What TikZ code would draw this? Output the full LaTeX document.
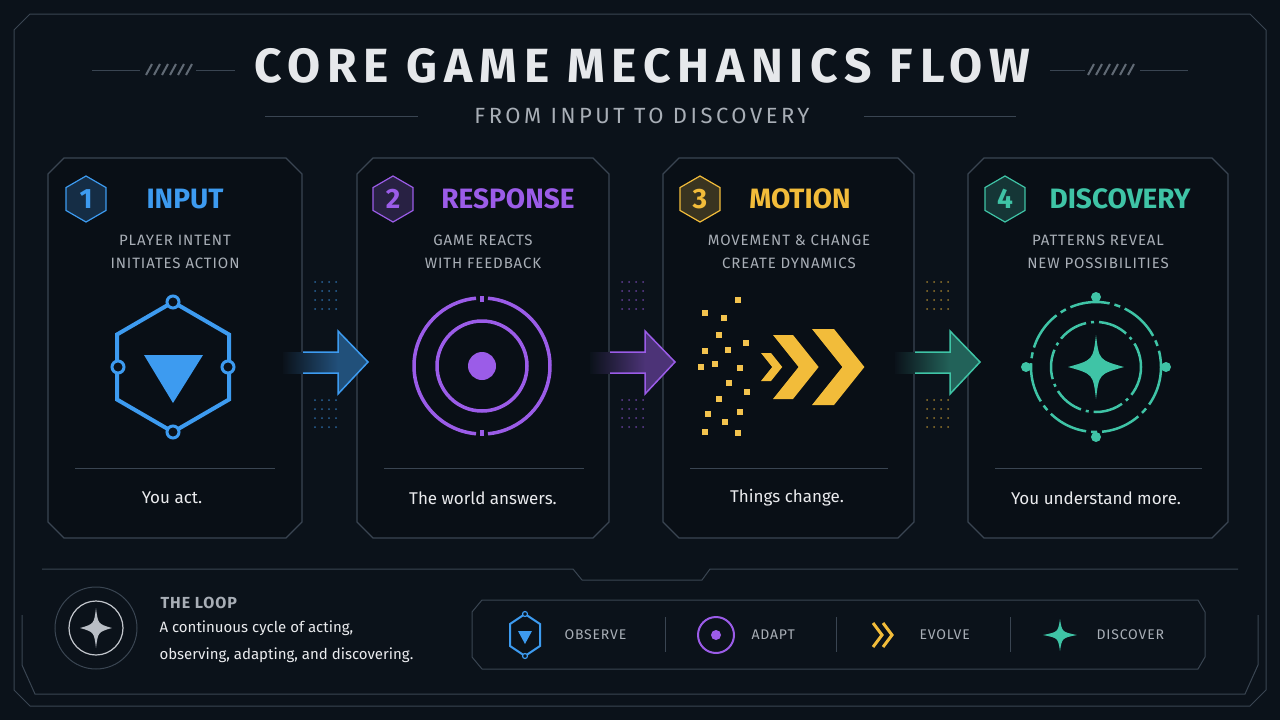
\documentclass[tikz,border=0pt]{standalone}
\usepackage{fontspec}
\setmainfont{Fira Sans}
\usetikzlibrary{shapes.geometric,calc}
\definecolor{bg}{HTML}{0B121A}
\definecolor{frame}{HTML}{3A4552}
\definecolor{cblue}{HTML}{3D9BF0}
\definecolor{cpurp}{HTML}{9B5CE8}
\definecolor{cyel}{HTML}{F2BC3A}
\definecolor{cgrn}{HTML}{3FC4A6}
\definecolor{txt}{HTML}{E6E8EB}
\definecolor{sub}{HTML}{A8AEB6}
\tikzset{
 card/.style={draw=frame,line width=1.2pt,fill=bg!85!black},
 ttl/.style={font=\fontsize{28}{30}\selectfont\bfseries},
 desc/.style={text=sub,font=\fontsize{15}{23}\selectfont\addfontfeature{LetterSpace=6},align=center},
 foot/.style={text=txt!85,font=\fontsize{17}{20}\selectfont},
 lg/.style={text=sub,font=\fontsize{14}{16}\selectfont\addfontfeature{LetterSpace=6},anchor=west},
}
\newcommand{\cardshape}[4]{% x1 y1 x2 y2
 \draw[card] (#1+16,#2)--(#3-16,#2)--(#3,#2+16)--(#3,#4-16)--(#3-16,#4)--(#1+16,#4)--(#1,#4-16)--(#1,#2+16)--cycle;}
\newcommand{\chev}[4]{% L t h cy
 \fill[cyel] (#1,#4-#3)--(#1+#2,#4-#3)--(#1+#2+0.8*#3,#4)--(#1+#2,#4+#3)--(#1,#4+#3)--(#1+0.8*#3,#4)--cycle;}
\begin{document}
\begin{tikzpicture}[x=1pt,y=-1pt]
\fill[bg] (0,0) rectangle (1280,720);
\useasboundingbox (0,0) rectangle (1280,720);
% outer frame
\draw[frame,line width=1pt] (30,14)--(1250,14)--(1266,30)--(1266,690)--(1250,706)--(30,706)--(14,690)--(14,30)--cycle;
% title
\node[text=txt,font=\fontsize{48}{50}\selectfont\bfseries\addfontfeature{LetterSpace=14}] (title) at (642,66) {CORE GAME MECHANICS FLOW};
\node[text=sub,font=\fontsize{22}{24}\selectfont\addfontfeature{LetterSpace=16}] (subt) at (642,116) {FROM INPUT TO DISCOVERY};
\draw[frame,line width=1pt] (92,70)--(140,70) (196,70)--(235,70) (1050,70)--(1085,70) (1140,70)--(1188,70);
\draw[frame,line width=1pt] (265,116)--(418,116) (864,116)--(1016,116);
\foreach \i in {0,...,5}{
 \draw[frame!80,line width=2pt] (146+\i*8,75)--(152+\i*8,64);
 \draw[frame!80,line width=2pt] (1088+\i*8,75)--(1094+\i*8,64);}
% cards
\cardshape{48}{158}{302}{538}
\cardshape{357}{158}{609}{538}
\cardshape{663}{158}{914}{538}
\cardshape{968}{158}{1228}{538}
\foreach \xa/\xb in {75/275,384/584,690/888,995/1202}{\draw[frame,line width=1pt] (\xa,468)--(\xb,468);}
% headers
\foreach \cx/\col/\n/\t/\tx in {86/cblue/1/INPUT/185,393/cpurp/2/RESPONSE/508,700/cyel/3/MOTION/800,1005/cgrn/4/DISCOVERY/1120}{
 \node[regular polygon,regular polygon sides=6,shape border rotate=30,draw=\col,fill=\col!20!bg,line width=1.2pt,minimum size=46pt,inner sep=0pt] (n\n) at (\cx,199) {};
 \node[text=\col,ttl] at (\cx,199) {\n};
 \node[text=\col,ttl] (t\n) at (\tx,199) {\t};}
\node[desc] (d1) at (175,252) {PLAYER INTENT\\INITIATES ACTION};
\node[desc] (d2) at (483,252) {GAME REACTS\\WITH FEEDBACK};
\node[desc] (d3) at (789,252) {MOVEMENT \& CHANGE\\CREATE DYNAMICS};
\node[desc] (d4) at (1098,252) {PATTERNS REVEAL\\NEW POSSIBILITIES};
\node[foot] (f1) at (172,498) {You act.};
\node[foot] (f2) at (483,498) {The world answers.};
\node[foot] (f3) at (787,498) {Things change.};
\node[foot] (f4) at (1096,498) {You understand more.};
% arrows
\foreach \xa/\ca/\cb in {283/cblue/cblue,590/cpurp/cpurp,895/cyel/cgrn}{
 \shade[left color=bg,right color=\cb!45!bg] (\xa,352) rectangle (\xa+55,373);
 \fill[\cb!45!bg] (\xa+55,352)--(\xa+55,331)--(\xa+85,362)--(\xa+55,394)--(\xa+55,373)--cycle;
 \draw[\cb,line width=1.5pt] (\xa+20,352)--(\xa+55,352)--(\xa+55,331)--(\xa+85,362)--(\xa+55,394)--(\xa+55,373)--(\xa+20,373);
 \foreach \r in {0,...,3}{\foreach \c in {0,...,3}{
  \fill[\ca!60!bg] (\xa+32+\c*7,282+\r*9) circle (1pt);
  \fill[\ca!60!bg] (\xa+32+\c*7,400+\r*9) circle (1pt);}}}
% icon 1
\draw[cblue,line width=4pt] (173,302)--(229,334.5)--(229,399.5)--(173,432)--(117,399.5)--(117,334.5)--cycle;
\foreach \p in {(173,302),(173,432),(118,367),(228,367)}{\draw[cblue,line width=3pt,fill=bg] \p circle (6);}
\fill[cblue] (144,355)--(203,355)--(173,403)--cycle;
% icon 2
\draw[cpurp,line width=3.5pt] (482,366) ++(95:68) arc (95:265:68);
\draw[cpurp,line width=3.5pt] (482,366) ++(275:68) arc (275:445:68);
\draw[cpurp,line width=3.5pt] (482,296)--(482,302) (482,430)--(482,436);
\draw[cpurp,line width=3.5pt] (482,366) circle (45);
\fill[cpurp] (482,366) circle (14);
% icon 3 chevrons
\chev{761}{10}{14}{367}
\chev{773}{20}{32}{367}
\chev{812}{22}{38}{367}
\foreach \p in {(705,313),(724,318),(719,335),(705,351),(728,350),(746,343),(701,367),(715,364),(740,368),(729,383),(747,392),(719,399),(708,414),(725,422),(705,432),(740,412),(738,433),(738,300)}{
 \fill[cyel!90] \p ++(-3,-3) rectangle ++(6,6);}
% icon 4
\draw[cgrn,line width=2.5pt,dash pattern=on 40pt off 5pt on 6pt off 5pt] (1096,367) circle (65);
\draw[cgrn,line width=2.5pt,dash pattern=on 30pt off 5pt on 3pt off 5pt] (1096,367) circle (45);
\foreach \p in {(1096,297),(1096,437),(1026,367),(1166,367)}{\fill[cgrn] \p circle (5);}
\fill[cgrn] (1096,335) .. controls (1099,360) .. (1124,367) .. controls (1099,374) .. (1096,399) .. controls (1093,374) .. (1068,367) .. controls (1093,360) .. (1096,335);
% bottom panel
\draw[frame,line width=1pt] (42,569)--(573,569)--(582,580)--(702,580)--(710,569)--(1238,569);
\draw[frame,line width=1pt] (22,615)--(22,665)--(35,694)--(1245,694)--(1258,665)--(1258,615);
\draw[frame,line width=1pt] (96,628) circle (41);
\draw[sub!70,line width=1.2pt] (96,628) circle (27);
\fill[sub!80] (96,608) .. controls (98,624) .. (112,628) .. controls (98,632) .. (96,648) .. controls (94,632) .. (80,628) .. controls (94,624) .. (96,608);
\node[anchor=west,text=sub,font=\fontsize{16}{18}\selectfont\bfseries\addfontfeature{LetterSpace=6}] (loop) at (157,603) {THE LOOP};
\node[anchor=north west,text=txt!85,align=left,font=\fontsize{15}{27}\selectfont] (loopd) at (156,617) {A continuous cycle of acting,\\observing, adapting, and discovering.};
\draw[frame,line width=1pt] (482,600)--(1198,600)--(1205,612)--(1205,657)--(1198,669)--(482,669)--(472,657)--(472,612)--cycle;
\foreach \x in {665,836,1010}{\draw[frame,line width=1pt] (\x,617)--(\x,652);}
\draw[cblue,line width=2pt] (525,614)--(540,624)--(540,646)--(525,656)--(510,646)--(510,624)--cycle;
\foreach \p in {(525,614),(525,656)}{\draw[cblue,line width=1.2pt,fill=bg] \p circle (2.5);}
\fill[cblue] (518,631)--(532,631)--(525,644)--cycle;
\draw[cpurp,line width=2pt] (716,635) circle (18); \fill[cpurp] (716,635) circle (5);
\foreach \dx in {0,10}{\draw[cyel,line width=3pt] (873+\dx,623)--(882+\dx,635)--(873+\dx,647);}
\fill[cgrn] (1060,619) .. controls (1062,632) .. (1077,635) .. controls (1062,638) .. (1060,651) .. controls (1058,638) .. (1043,635) .. controls (1058,632) .. (1060,619);
\node[lg] (o) at (561,635) {OBSERVE};
\node[lg] (a) at (748,635) {ADAPT};
\node[lg] (e) at (916,635) {EVOLVE};
\node[lg] (dd) at (1093,635) {DISCOVER};
\end{tikzpicture}
\end{document}
